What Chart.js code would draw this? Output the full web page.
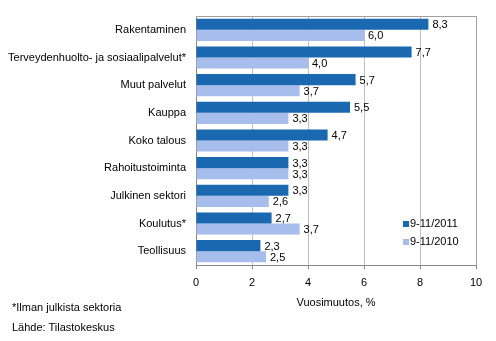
<!DOCTYPE html>
<html>
<head>
<meta charset="utf-8">
<script src="https://cdn.jsdelivr.net/npm/chart.js@4/dist/chart.umd.min.js"></script>
<style>
  html, body { margin: 0; padding: 0; background: #fff; }
  #wrap { position: relative; width: 496px; height: 341px; }
  .note { position: absolute; left: 12px; font: 11px "Liberation Sans", Arial, sans-serif; color: #000; }
</style>
</head>
<body>
<div id="wrap">
  <canvas id="chart" width="496" height="341"></canvas>
  <div class="note" style="top:301px">*Ilman julkista sektoria</div>
  <div class="note" style="top:321px">Lähde: Tilastokeskus</div>
</div>
<script>
// Categories (top to bottom)
const categories = [
  "Rakentaminen",
  "Terveydenhuolto- ja sosiaalipalvelut*",
  "Muut palvelut",
  "Kauppa",
  "Koko talous",
  "Rahoitustoiminta",
  "Julkinen sektori",
  "Koulutus*",
  "Teollisuus",
];

// Annual change, %
const series2011 = [8.3, 7.7, 5.7, 5.5, 4.7, 3.3, 3.3, 2.7, 2.3];
const series2010 = [6.0, 4.0, 3.7, 3.3, 3.3, 3.3, 2.6, 3.7, 2.5];

const seriesNames = ["9-11/2011", "9-11/2010"];
const xTicks = [0, 2, 4, 6, 8, 10];

const darkBlue = "#1A68B0";
const lightBlue = "#A7BDEB";
const font = "Liberation Sans, Arial, sans-serif";

// Plot frame (top and right edge)
const framePlugin = {
  id: "frame",
  beforeDatasetsDraw(chart) {
    const { ctx, chartArea: a } = chart;
    ctx.save();
    ctx.strokeStyle = "#A0A0A0";
    ctx.lineWidth = 1;
    ctx.beginPath();
    ctx.moveTo(a.left, a.top + 0.5);
    ctx.lineTo(a.right + 0.5, a.top + 0.5);
    ctx.lineTo(a.right + 0.5, a.bottom);
    ctx.stroke();
    ctx.restore();
  },
};

// Value labels at the end of each bar
const valueLabels = {
  id: "valueLabels",
  afterDatasetsDraw(chart) {
    const { ctx } = chart;
    ctx.save();
    ctx.font = "11px " + font;
    ctx.fillStyle = "#000";
    ctx.textBaseline = "middle";
    ctx.textAlign = "left";
    chart.data.datasets.forEach((ds, i) => {
      chart.getDatasetMeta(i).data.forEach((bar, j) => {
        const txt = ds.data[j].toFixed(1).replace(".", ",");
        ctx.fillText(txt, bar.x + 4, bar.y + 1);
      });
    });
    ctx.restore();
  },
};

// Legend inside the plot area, lower right
const innerLegend = {
  id: "innerLegend",
  afterDraw(chart) {
    const { ctx, chartArea: a } = chart;
    const x0 = a.right - 73;
    const y0 = a.bottom - 41;
    ctx.save();
    ctx.font = "11px " + font;
    ctx.textBaseline = "middle";
    chart.data.datasets.forEach((ds, i) => {
      const y = y0 + i * 18;
      ctx.fillStyle = ds.backgroundColor;
      ctx.fillRect(x0, y - 3, 6, 6);
      ctx.fillStyle = "#000";
      ctx.fillText(ds.label, x0 + 7, y);
    });
    ctx.restore();
  },
};

new Chart(document.getElementById("chart"), {
  type: "bar",
  plugins: [framePlugin, valueLabels, innerLegend],
  data: {
    labels: categories,
    datasets: [
      { label: seriesNames[0], data: series2011, backgroundColor: darkBlue },
      { label: seriesNames[1], data: series2010, backgroundColor: lightBlue },
    ],
  },
  options: {
    indexAxis: "y",
    responsive: false,
    animation: false,
    layout: { padding: { left: 0, right: 20, top: 16, bottom: 31 } },
    datasets: { bar: { categoryPercentage: 0.8, barPercentage: 1.0 } },
    plugins: {
      legend: { display: false },
      tooltip: { enabled: false },
    },
    scales: {
      x: {
        min: 0,
        max: 10,
        afterBuildTicks: (s) => { s.ticks = xTicks.map((v) => ({ value: v })); },
        afterFit: (s) => { s.height = 45; },
        grid: { color: "#C0C0C0", tickColor: "#888", tickLength: 4, drawTicks: true },
        border: { color: "#888" },
        ticks: { color: "#000", font: { family: font, size: 11 }, padding: 7 },
        title: {
          display: true,
          text: "Vuosimuutos, %",
          color: "#000",
          font: { family: font, size: 11 },
          padding: { top: 0, bottom: 0 },
        },
      },
      y: {
        afterFit: (s) => { s.width = 196; },
        grid: { display: false },
        border: { color: "#888" },
        ticks: { color: "#000", font: { family: font, size: 11 }, padding: 2 },
      },
    },
  },
});
</script>
</body>
</html>
